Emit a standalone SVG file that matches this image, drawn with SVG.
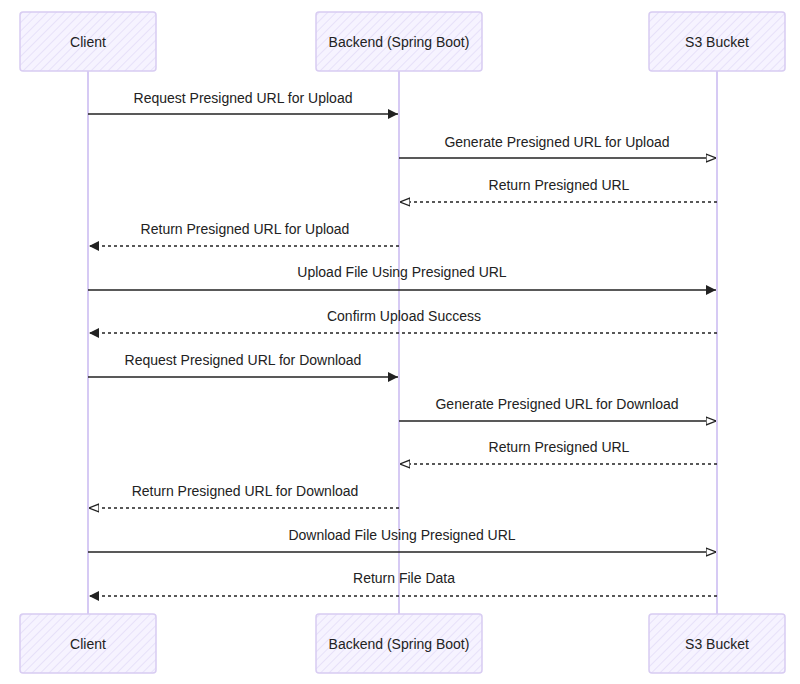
<svg xmlns="http://www.w3.org/2000/svg" width="800" height="684" viewBox="0 0 800 684">
<style>
.box{fill:url(#hatch);stroke:#d8ccf2;stroke-width:1.5}
.lt{font-family:"Liberation Sans",Arial,sans-serif;font-size:14px;fill:#222;text-anchor:middle}
.life{stroke:#c9b8f0;stroke-width:1.5}
.m{stroke:#222;stroke-width:1.5;fill:none}
.d{stroke-dasharray:3,3}
</style>
<defs>
<pattern id="hatch" width="6" height="6" patternUnits="userSpaceOnUse" patternTransform="rotate(45)">
<rect width="6" height="6" fill="#f6f3ff"/><line x1="0" y1="0" x2="0" y2="6" stroke="#e2dbf7" stroke-width="1.5"/>
</pattern>
<marker id="af" viewBox="0 0 10 10" refX="10" refY="5" markerWidth="10" markerHeight="10" orient="auto-start-reverse" markerUnits="userSpaceOnUse"><path d="M0,0L10,5L0,10z" fill="#222"/></marker>
<marker id="ao" viewBox="0 0 10 10" refX="10" refY="5" markerWidth="10" markerHeight="10" orient="auto-start-reverse" markerUnits="userSpaceOnUse"><path d="M0,1L10,5L0,9z" fill="#fff" stroke="#222" stroke-width="1.3"/></marker>
</defs>
<rect width="800" height="684" fill="#fff"/>
<g id="lifelines">
<line class="life" x1="88" y1="71" x2="88" y2="614"/>
<line class="life" x1="399" y1="71" x2="399" y2="614"/>
<line class="life" x1="717" y1="71" x2="717" y2="614"/>
</g>
<g id="client-top"><rect class="box" x="20" y="12" width="136" height="59" rx="3"/><text class="lt" x="88" y="47">Client</text></g>
<g id="backend-top"><rect class="box" x="316" y="12" width="166" height="59" rx="3"/><text class="lt" x="399" y="47">Backend (Spring Boot)</text></g>
<g id="s3-top"><rect class="box" x="649" y="12" width="136" height="59" rx="3"/><text class="lt" x="717" y="47">S3 Bucket</text></g>
<g id="client-bottom"><rect class="box" x="20" y="614" width="136" height="59" rx="3"/><text class="lt" x="88" y="649">Client</text></g>
<g id="backend-bottom"><rect class="box" x="316" y="614" width="166" height="59" rx="3"/><text class="lt" x="399" y="649">Backend (Spring Boot)</text></g>
<g id="s3-bottom"><rect class="box" x="649" y="614" width="136" height="59" rx="3"/><text class="lt" x="717" y="649">S3 Bucket</text></g>
<g id="connectors">
<line class="m" x1="88" y1="114" x2="398" y2="114" marker-end="url(#af)"/><text class="lt" x="243" y="103">Request Presigned URL for Upload</text>
<line class="m" x1="399" y1="158" x2="716" y2="158" marker-end="url(#ao)"/><text class="lt" x="557" y="147">Generate Presigned URL for Upload</text>
<line class="m d" x1="717" y1="202" x2="400" y2="202" marker-end="url(#ao)"/><text class="lt" x="559" y="190">Return Presigned URL</text>
<line class="m d" x1="399" y1="246" x2="89" y2="246" marker-end="url(#af)"/><text class="lt" x="245" y="234">Return Presigned URL for Upload</text>
<line class="m" x1="88" y1="290" x2="716" y2="290" marker-end="url(#af)"/><text class="lt" x="402" y="277">Upload File Using Presigned URL</text>
<line class="m d" x1="717" y1="333" x2="89" y2="333" marker-end="url(#af)"/><text class="lt" x="404" y="321">Confirm Upload Success</text>
<line class="m" x1="88" y1="377" x2="398" y2="377" marker-end="url(#af)"/><text class="lt" x="243" y="365">Request Presigned URL for Download</text>
<line class="m" x1="399" y1="421" x2="716" y2="421" marker-end="url(#ao)"/><text class="lt" x="557" y="409">Generate Presigned URL for Download</text>
<line class="m d" x1="717" y1="464" x2="400" y2="464" marker-end="url(#ao)"/><text class="lt" x="559" y="452">Return Presigned URL</text>
<line class="m d" x1="399" y1="508" x2="89" y2="508" marker-end="url(#ao)"/><text class="lt" x="245" y="496">Return Presigned URL for Download</text>
<line class="m" x1="88" y1="552" x2="716" y2="552" marker-end="url(#ao)"/><text class="lt" x="402" y="540">Download File Using Presigned URL</text>
<line class="m d" x1="717" y1="596" x2="89" y2="596" marker-end="url(#af)"/><text class="lt" x="404" y="583">Return File Data</text>
</g>
</svg>
